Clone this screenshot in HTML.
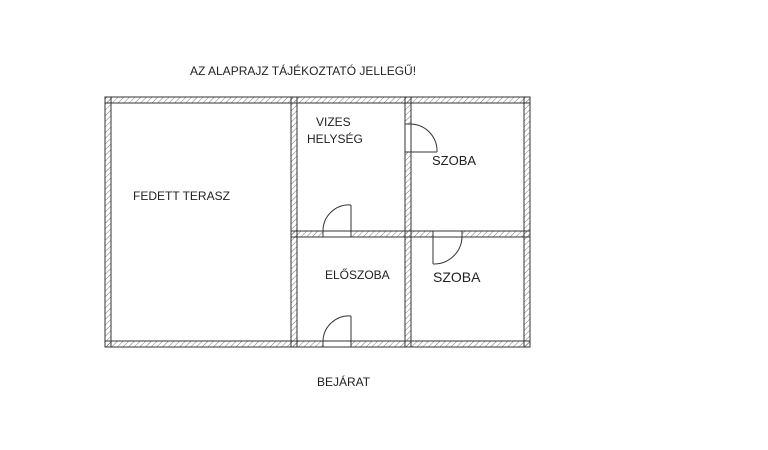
<!DOCTYPE html>
<html><head><meta charset="utf-8"><style>
html,body{margin:0;padding:0;background:#fff}
svg{display:block}
text{font-family:"Liberation Sans",sans-serif;fill:#222}
</style></head><body>
<svg width="768" height="450" viewBox="0 0 768 450" xmlns="http://www.w3.org/2000/svg">
<defs>
<pattern id="h" width="4" height="4" patternUnits="userSpaceOnUse" patternTransform="rotate(45)">
<line x1="0" y1="0" x2="0" y2="4" stroke="#555" stroke-width="0.8"/>
</pattern>
</defs>
<g stroke="#333" stroke-width="1" fill="url(#h)">
<!-- outer walls -->
<rect x="105" y="97" width="425" height="6"/>
<rect x="105" y="341" width="218" height="6"/>
<rect x="351" y="341" width="179" height="6"/>
<rect x="105" y="97" width="6" height="250"/>
<rect x="524" y="97" width="6" height="250"/>
<!-- interior walls -->
<rect x="291" y="97" width="6" height="250"/>
<rect x="405" y="97" width="6" height="27"/>
<rect x="405" y="152" width="6" height="195"/>
<rect x="291" y="231" width="32" height="6"/>
<rect x="351" y="231" width="82" height="6"/>
<rect x="462" y="231" width="68" height="6"/>
</g>
<g stroke="#333" stroke-width="1" fill="none">
<!-- door gap edges -->
<rect x="323" y="231" width="28" height="6" fill="#fff"/>
<rect x="323" y="341" width="28" height="6" fill="#fff"/>
<rect x="405" y="124" width="6" height="28" fill="#fff"/>
<rect x="433" y="231" width="29" height="6" fill="#fff"/>
<!-- wet room door -->
<line x1="351" y1="231" x2="351" y2="205"/>
<path d="M351 205 A26 26 0 0 0 323 231"/>
<!-- entrance door -->
<line x1="351" y1="341" x2="351" y2="316"/>
<path d="M351 316 A26 26 0 0 0 323 341"/>
<!-- upper szoba door -->
<line x1="411" y1="152" x2="437" y2="152"/>
<path d="M411 124 A27 27 0 0 1 437 152"/>
<!-- lower szoba door -->
<line x1="433" y1="237" x2="433" y2="264"/>
<path d="M433 264 A28 28 0 0 0 462 237"/>
</g>
<text x="190" y="75" font-size="12">AZ ALAPRAJZ TÁJÉKOZTATÓ JELLEGŰ!</text>
<text x="133" y="200" font-size="12">FEDETT TERASZ</text>
<text x="316" y="126" font-size="12">VIZES</text>
<text x="307" y="143" font-size="12">HELYSÉG</text>
<text x="432" y="165" font-size="13">SZOBA</text>
<text x="325" y="279" font-size="12">ELŐSZOBA</text>
<text x="433" y="282" font-size="14">SZOBA</text>
<text x="317" y="386" font-size="12">BEJÁRAT</text>
</svg>
</body></html>
